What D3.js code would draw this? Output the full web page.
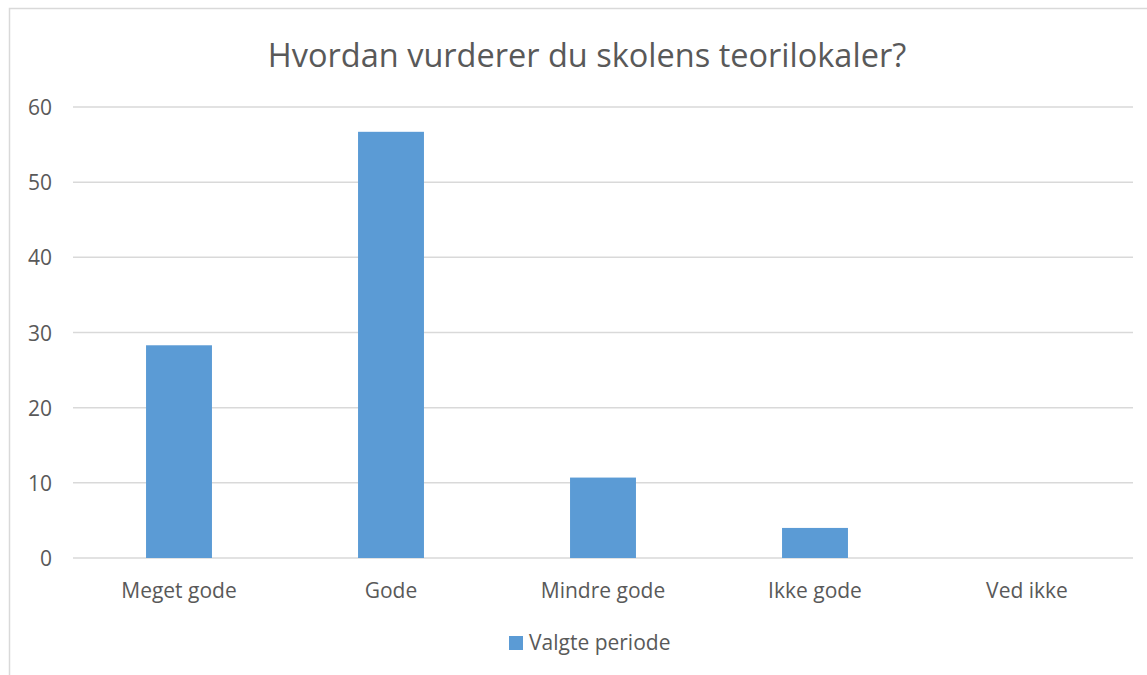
<!DOCTYPE html>
<html>
<head>
<meta charset="utf-8">
<script src="https://cdn.jsdelivr.net/npm/d3@7"></script>
<style>
body { margin: 0; background: #fff; }
svg text { font-family: "Open Sans", sans-serif; fill: #595959; }
</style>
</head>
<body>
<svg id="chart" width="1147" height="675"></svg>
<script>
// chart data
var categories = ["Meget gode", "Gode", "Mindre gode", "Ikke gode", "Ved ikke"];
var values = [28.3, 56.7, 10.7, 4.0, 0];
var yTicks = [0, 10, 20, 30, 40, 50, 60];
var seriesName = "Valgte periode";
var title = "Hvordan vurderer du skolens teorilokaler?";

var svg = d3.select("#chart");
var W = 1147, H = 675;
var plot = {left: 73, right: 1133, top: 107, bottom: 558};

// outer frame (runs off the right and bottom of the picture)
svg.append("rect")
    .attr("x", 9.5).attr("y", 8.5)
    .attr("width", W + 20).attr("height", H + 20)
    .attr("fill", "#fff")
    .attr("stroke", "#d9d9d9")
    .attr("stroke-width", 1.5);

svg.append("text")
    .attr("x", 587).attr("y", 67)
    .attr("text-anchor", "middle")
    .style("font-size", "32.5px")
    .text(title);

var x = d3.scaleBand()
    .domain(categories)
    .range([plot.left, plot.right]);

var y = d3.scaleLinear()
    .domain([0, 60])
    .range([plot.bottom, plot.top]);

var barWidth = x.step() * 0.311;

// gridlines
svg.append("g").selectAll("line")
    .data(yTicks)
    .enter().append("line")
    .attr("x1", plot.left).attr("x2", plot.right)
    .attr("y1", function(d){ return y(d); })
    .attr("y2", function(d){ return y(d); })
    .attr("stroke", "#d9d9d9")
    .attr("stroke-width", 1.5);

// y axis labels
svg.append("g").selectAll("text")
    .data(yTicks)
    .enter().append("text")
    .attr("x", 52)
    .attr("y", function(d){ return y(d) + 8; })
    .attr("text-anchor", "end")
    .style("font-size", "21px")
    .text(function(d){ return d; });

// bars
svg.append("g").selectAll("rect")
    .data(values)
    .enter().append("rect")
    .attr("x", function(d, i){ return x(categories[i]) + x.bandwidth() / 2 - barWidth / 2; })
    .attr("y", function(d){ return y(d); })
    .attr("width", barWidth)
    .attr("height", function(d){ return y(0) - y(d); })
    .attr("fill", "#5b9bd5");

// category labels
svg.append("g").selectAll("text")
    .data(categories)
    .enter().append("text")
    .attr("x", function(d){ return x(d) + x.bandwidth() / 2; })
    .attr("y", 598)
    .attr("text-anchor", "middle")
    .style("font-size", "21px")
    .text(function(d){ return d; });

// legend
var legend = svg.append("g").attr("transform", "translate(509,636)");
legend.append("rect")
    .attr("width", 14).attr("height", 14)
    .attr("fill", "#5b9bd5");
legend.append("text")
    .attr("x", 20).attr("y", 14)
    .style("font-size", "21px")
    .text(seriesName);
</script>
</body>
</html>
